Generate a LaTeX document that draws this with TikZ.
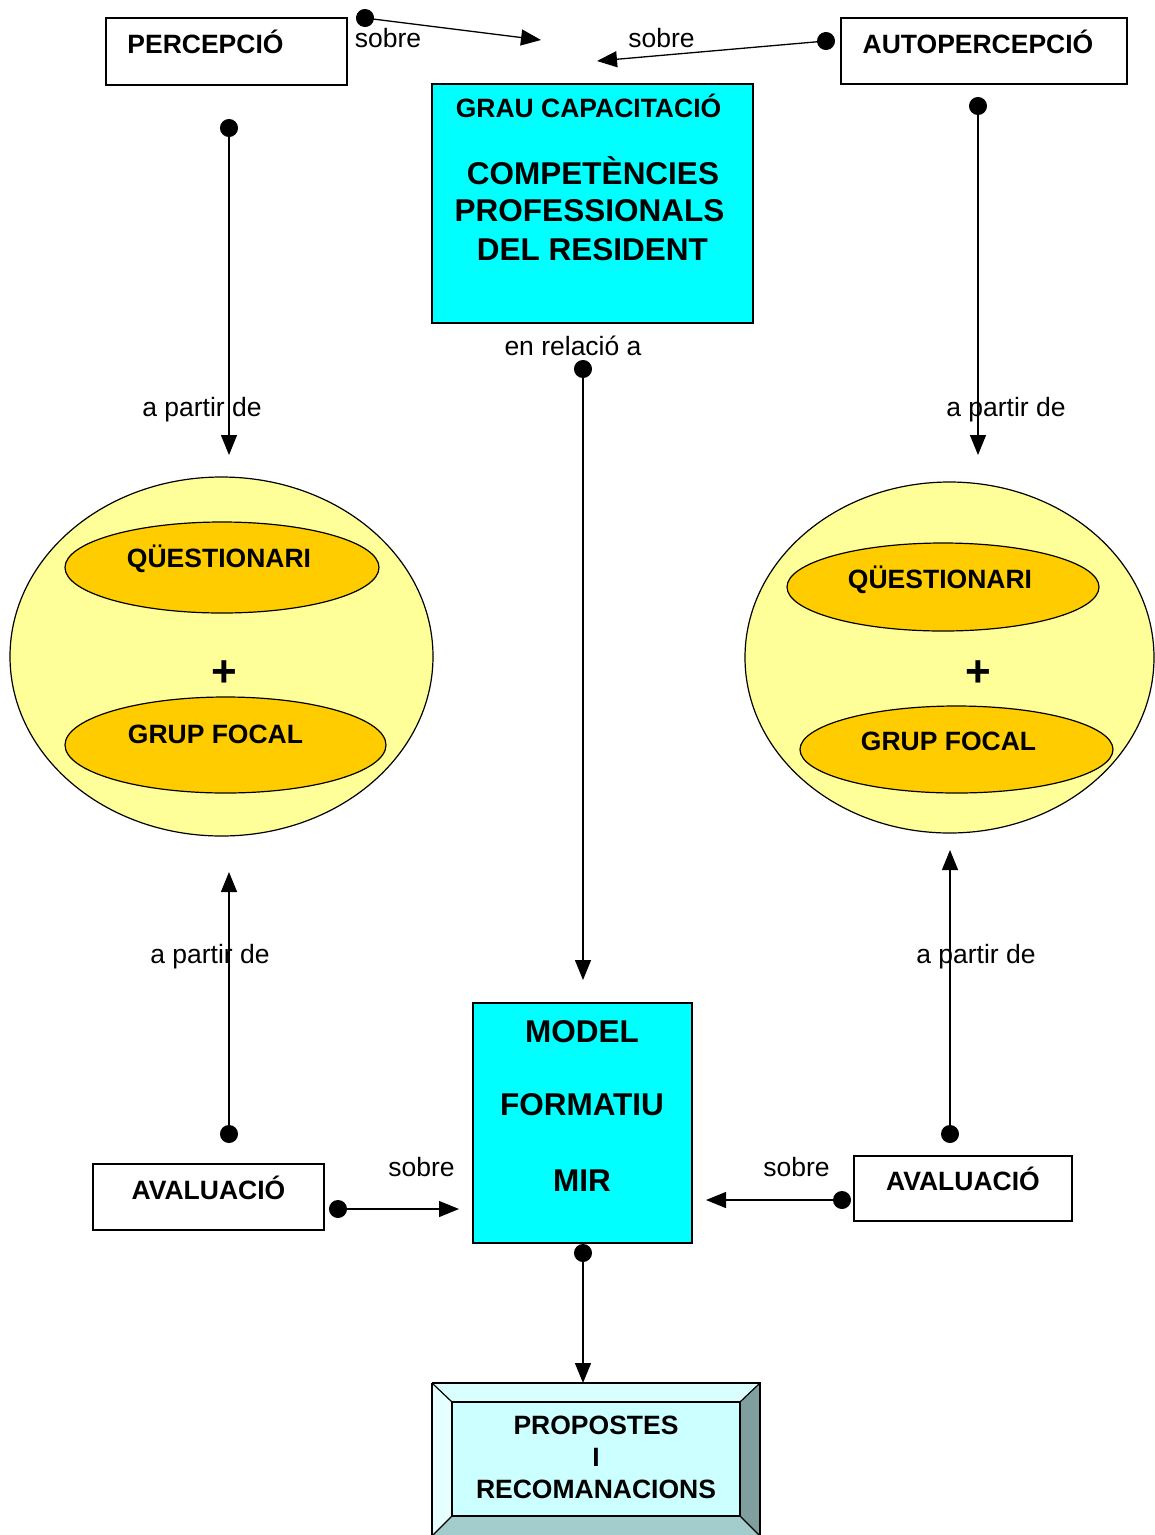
\documentclass[tikz,border=0pt]{standalone}
\usepackage{fontspec}
\setmainfont{Liberation Sans}
\usetikzlibrary{arrows.meta,shapes.geometric}

\definecolor{boxcyan}{HTML}{00FFFF}
\definecolor{paleyellow}{HTML}{FFFF99}
\definecolor{gold}{HTML}{FFCC00}
\definecolor{bevface}{HTML}{CCFFFF}
\definecolor{bevtop}{HTML}{D9FFFF}
\definecolor{bevleft}{HTML}{E6FFFF}
\definecolor{bevright}{HTML}{7F9F9F}
\definecolor{bevbottom}{HTML}{A3CCCC}

\tikzset{
  framebox/.style={draw, line width=1.2pt, fill=white, inner sep=0pt, outer sep=0pt},
  cyanbox/.style={framebox, fill=boxcyan},
  outerell/.style={ellipse, draw, line width=1.2pt, fill=paleyellow, inner sep=0pt, outer sep=0pt},
  innerell/.style={ellipse, draw, line width=1.2pt, fill=gold, inner sep=0pt, outer sep=0pt},
  lbl/.style={anchor=base, inner sep=0pt, font=\fontsize{26.5}{30}\selectfont},
  blbl/.style={anchor=base, inner sep=0pt, font=\fontsize{26.5}{30}\selectfont\bfseries},
  biglbl/.style={anchor=base, inner sep=0pt, font=\fontsize{31.5}{36}\selectfont\bfseries},
  pluslbl/.style={anchor=base, inner sep=0pt, font=\fontsize{44}{48}\selectfont\bfseries},
  link/.style={line width=1.3pt, {Circle[length=18pt]}-{Triangle[length=20pt,width=16pt]}, shorten <=-9pt},
}

\begin{document}
\begin{tikzpicture}[x=1pt,y=-1pt]
\useasboundingbox (0,0) rectangle (1155,1535);

% ---- boxes ----
\node[framebox, minimum width=241pt, minimum height=67pt] (perc) at (226.5,51.5) {};
\node[framebox, minimum width=286pt, minimum height=66pt] (autoperc) at (984,51) {};
\node[cyanbox, minimum width=321pt, minimum height=239pt] (grau) at (592.5,203.5) {};
\node[cyanbox, minimum width=219pt, minimum height=240pt] (model) at (582.5,1123) {};
\node[framebox, minimum width=231pt, minimum height=66pt] (avalL) at (208.5,1197) {};
\node[framebox, minimum width=218pt, minimum height=65pt] (avalR) at (963,1188.5) {};

% ---- ellipse groups ----
\node[outerell, minimum width=423pt, minimum height=359pt] (grpL) at (221.5,656.5) {};
\node[innerell, minimum width=314pt, minimum height=91pt] (qL) at (222,567.5) {};
\node[innerell, minimum width=321pt, minimum height=96pt] (fL) at (225.5,745) {};
\node[outerell, minimum width=409pt, minimum height=351pt] (grpR) at (949.5,657.5) {};
\node[innerell, minimum width=312pt, minimum height=88pt] (qR) at (943,587) {};
\node[innerell, minimum width=313pt, minimum height=87pt] (fR) at (956.5,749.5) {};

% ---- bevelled box ----
\coordinate (bo1) at (432,1383);
\coordinate (bo2) at (760,1383);
\coordinate (bo3) at (760,1536);
\coordinate (bo4) at (432,1536);
\coordinate (bi1) at (452,1402);
\coordinate (bi2) at (740,1402);
\coordinate (bi3) at (740,1516);
\coordinate (bi4) at (452,1516);
\fill[bevtop] (bo1) -- (bo2) -- (bi2) -- (bi1) -- cycle;
\fill[bevright] (bo2) -- (bo3) -- (bi3) -- (bi2) -- cycle;
\fill[bevbottom] (bo3) -- (bo4) -- (bi4) -- (bi3) -- cycle;
\fill[bevleft] (bo4) -- (bo1) -- (bi1) -- (bi4) -- cycle;
\node[fill=bevface, draw, line width=1.2pt, inner sep=0pt, outer sep=0pt,
      minimum width=288pt, minimum height=114pt] (prop) at (596,1459) {};
\draw[line width=1.2pt] (bo1) -- (bo2) -- (bo3) (bo4) -- (bo1);
\draw[line width=1.2pt] (bo1) -- (bi1) (bo2) -- (bi2) (bo3) -- (bi3) (bo4) -- (bi4);

% ---- texts ----
\node[blbl] (tperc) at (205.5,53.5) {PERCEPCIÓ};
\node[blbl] (tautoperc) at (978,53) {AUTOPERCEPCIÓ};
\node[blbl] (tgrau) at (588.5,117) {GRAU CAPACITACIÓ};
\node[biglbl] (tcomp) at (593,184) {COMPETÈNCIES};
\node[biglbl] (tprof) at (589.5,221) {PROFESSIONALS};
\node[biglbl] (tres) at (592.5,260) {DEL RESIDENT};
\node[biglbl] (tmodel) at (582,1042) {MODEL};
\node[biglbl] (tform) at (582,1115) {FORMATIU};
\node[biglbl] (tmir) at (582,1191) {MIR};
\node[blbl] (tavalL) at (208.5,1199) {AVALUACIÓ};
\node[blbl] (tavalR) at (963,1190) {AVALUACIÓ};
\node[blbl] (tqL) at (219,567) {QÜESTIONARI};
\node[blbl] (tfL) at (215.5,743) {GRUP FOCAL};
\node[blbl] (tqR) at (940,588) {QÜESTIONARI};
\node[blbl] (tfR) at (948.5,750) {GRUP FOCAL};
\node[pluslbl] (plusL) at (224,686) {+};
\node[pluslbl] (plusR) at (978,686) {+};
\node[blbl] (tprop1) at (596,1434) {PROPOSTES};
\node[blbl] (tprop2) at (596,1466) {I};
\node[blbl] (tprop3) at (596,1498) {RECOMANACIONS};

% ---- connector labels ----
\node[lbl] (sobreTL) at (388,47) {sobre};
\node[lbl] (sobreTR) at (661.5,47) {sobre};
\node[lbl] (enrel) at (573,355) {en relació a};
\node[lbl] (apL) at (202,416) {a partir de};
\node[lbl] (apR) at (1006,416) {a partir de};
\node[lbl] (apLL) at (210,963) {a partir de};
\node[lbl] (apLR) at (976,963) {a partir de};
\node[lbl] (sobreBL) at (421.5,1176) {sobre};
\node[lbl] (sobreBR) at (796.5,1176) {sobre};

% ---- connector end points ----
\coordinate (sTL) at (365,18);
\coordinate (eTL) at (541,40);
\coordinate (sTR) at (826,41);
\coordinate (eTR) at (597,61);
\coordinate (sPerc) at (229,128);
\coordinate (ePerc) at (229,455);
\coordinate (sAuto) at (978,106);
\coordinate (eAuto) at (978,455);
\coordinate (sGrau) at (583,369);
\coordinate (eGrau) at (583,980);
\coordinate (sAvL) at (229,1134);
\coordinate (eAvL) at (229,872);
\coordinate (sAvR) at (950,1134);
\coordinate (eAvR) at (950,850);
\coordinate (sAvLh) at (338,1209);
\coordinate (eAvLh) at (459,1209);
\coordinate (sAvRh) at (842,1200);
\coordinate (eAvRh) at (706,1200);
\coordinate (sModel) at (583,1253);
\coordinate (eModel) at (583,1383);

% ---- connectors ----
\draw[link] (sTL) -- (eTL);
\draw[link] (sTR) -- (eTR);
\draw[link] (sPerc) -- (ePerc);
\draw[link] (sAuto) -- (eAuto);
\draw[link] (sGrau) -- (eGrau);
\draw[link] (sAvL) -- (eAvL);
\draw[link] (sAvR) -- (eAvR);
\draw[link] (sAvLh) -- (eAvLh);
\draw[link] (sAvRh) -- (eAvRh);
\draw[link] (sModel) -- (eModel);
\end{tikzpicture}
\end{document}
